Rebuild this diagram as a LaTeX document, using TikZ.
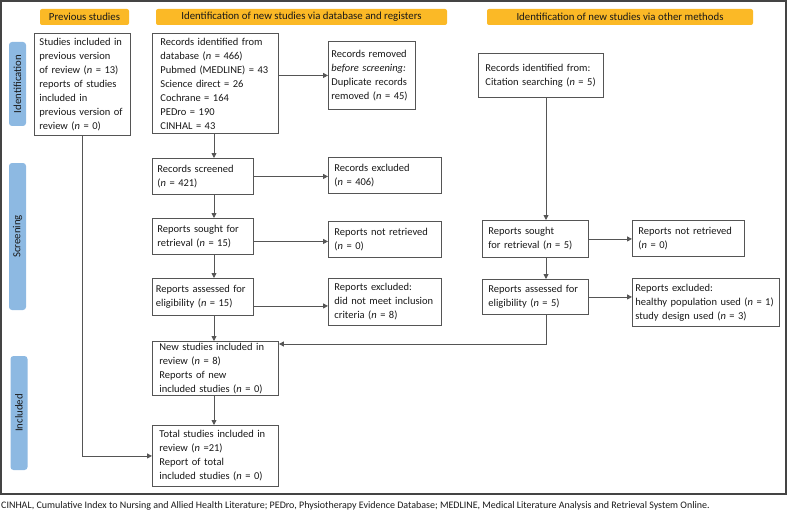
\documentclass[tikz,border=0pt]{standalone}
\usepackage{fontspec}
\setmainfont{Carlito}
\usetikzlibrary{arrows.meta, positioning, calc}
\definecolor{headorange}{RGB}{251,185,38}
\definecolor{sideblue}{RGB}{141,185,226}
\definecolor{linegray}{RGB}{85,85,85}
\definecolor{textgray}{RGB}{25,25,25}
\newcommand{\nn}{\textit{n}}

\begin{document}
\begin{tikzpicture}[x=1pt, y=-1pt,
  box/.style={draw=linegray, line width=0.9pt, fill=white, anchor=north west, align=left,
    inner xsep=5pt, inner ysep=1pt, text=textgray, font=\fontsize{10.5}{14}\selectfont},
  header/.style={fill=headorange, rounded corners=2pt, inner sep=0pt, minimum height=16pt,
    text=textgray, font=\fontsize{10.8}{12}\selectfont},
  phase/.style={fill=sideblue, rounded corners=3pt, inner sep=0pt, rotate=90,
    minimum height=17pt, text=textgray, font=\fontsize{10.8}{12}\selectfont},
  link/.style={draw=linegray, line width=0.9pt, -{Triangle[length=5pt, width=5pt]}}]
  \useasboundingbox (0,0) rectangle (788,511);
  \draw[linegray!80!black, line width=1.1pt] (1,1) rectangle (786,494);

  % Headers
  \node[header, minimum width=89pt] (hprev) at (84.5,17) {Previous studies};
  \node[header, minimum width=291pt] (hdb) at (301.5,17) {Identification of new studies via database and registers};
  \node[header, minimum width=266pt] (hoth) at (620,17) {Identification of new studies via other methods};

  % Phases
  \node[phase, minimum width=84pt] (pid) at (17.5,84) {Identification};
  \node[phase, minimum width=147pt] (pscr) at (17.5,236.5) {Screening};
  \node[phase, minimum width=114pt] (pinc) at (19,413) {Included};

  % Previous studies
  \node[box, inner xsep=5pt, text width=86pt, minimum height=102pt] (prev) at (34,33)
    {Studies included in\\previous version\\of review (\nn{} = 13)\\reports of studies\\included in\\previous version of\\review (\nn{} = 0)};

  % Database and registers
  \node[box, inner xsep=8pt, text width=110pt, minimum height=100pt] (db) at (152,33)
    {Records identified from\\database (\nn{} = 466)\\Pubmed (MEDLINE) = 43\\Science direct = 26\\Cochrane = 164\\PEDro = 190\\CINHAL = 43};
  \node[box, inner xsep=3pt, text width=81pt, minimum height=68pt] (removed) at (328,41)
    {Records removed\\\textit{before screening:}\\Duplicate records\\removed (\nn{} = 45)};
  \node[box, inner xsep=5pt, text width=91pt, minimum height=36pt] (screened) at (152,158)
    {Records screened\\(\nn{} = 421)};
  \node[box, inner xsep=6pt, text width=101pt, minimum height=36pt] (excluded) at (328,157)
    {Records excluded\\(\nn{} = 406)};
  \node[box, inner xsep=5pt, text width=91pt, minimum height=36pt] (sought) at (152,218)
    {Reports sought for\\retrieval (\nn{} = 15)};
  \node[box, inner xsep=6pt, text width=101pt, minimum height=36pt] (notretr) at (328,221)
    {Reports not retrieved\\(\nn{} = 0)};
  \node[box, inner xsep=3.5pt, text width=94pt, minimum height=37pt] (assessed) at (152,278)
    {Reports assessed for\\eligibility (\nn{} = 15)};
  \node[box, inner xsep=6pt, text width=101pt, minimum height=47pt] (notmet) at (328,278)
    {Reports excluded:\\did not meet inclusion\\criteria (\nn{} = 8)};

  % Other methods
  \node[box, inner xsep=7pt, text width=111pt, minimum height=44pt] (citation) at (478,53)
    {Records identified from:\\Citation searching (\nn{} = 5)};
  \node[box, inner xsep=6pt, text width=94pt, minimum height=37pt] (soughtoth) at (482,220)
    {Reports sought\\for retrieval (\nn{} = 5)};
  \node[box, inner xsep=6pt, text width=100pt, minimum height=36pt] (notretroth) at (632,220)
    {Reports not retrieved\\(\nn{} = 0)};
  \node[box, inner xsep=6pt, text width=94pt, minimum height=35pt] (assessedoth) at (482,279)
    {Reports assessed for\\eligibility (\nn{} = 5)};
  \node[box, inner xsep=3pt, text width=141pt, minimum height=48pt] (exclother) at (632,278)
    {Reports excluded:\\healthy population used (\nn{} = 1)\\study design used (\nn{} = 3)};

  % Included
  \node[box, inner xsep=7pt, text width=112pt, minimum height=54pt] (newincl) at (152,341)
    {New studies included in\\review (\nn{} = 8)\\Reports of new\\included studies (\nn{} = 0)};
  \node[box, inner xsep=7pt, text width=112pt, minimum height=61pt] (total) at (152,425)
    {Total studies included in\\review (\nn{} =21)\\Report of total\\included studies (\nn{} = 0)};

  % Connectors
  \coordinate (colA) at (214,0);
  \coordinate (colB) at (546,0);
  \coordinate (join) at (546,344);
  \draw[link] (prev.south) |- (total.west);
  \draw[link] (db.south -| colA) -- (screened.north -| colA);
  \draw[link] (db.east |- removed.west) -- (removed.west);
  \draw[link] (screened.south -| colA) -- (sought.north -| colA);
  \draw[link] (screened.east) -- (screened.east -| excluded.west);
  \draw[link] ([yshift=-5pt]sought.east) -- ([yshift=-5pt]sought.east -| notretr.west);
  \draw[link] (sought.south -| colA) -- (assessed.north -| colA);
  \draw[link] ([yshift=-9pt]assessed.east) -- ([yshift=-9pt]assessed.east -| notmet.west);
  \draw[link] (assessed.south -| colA) -- (newincl.north -| colA);
  \draw[link] (newincl.south -| colA) -- (total.north -| colA);
  \draw[link] (citation.south -| colB) -- (soughtoth.north -| colB);
  \draw[link] (soughtoth.east) -- (soughtoth.east -| notretroth.west);
  \draw[link] (soughtoth.south -| colB) -- (assessedoth.north -| colB);
  \draw[link] (assessedoth.east) -- (assessedoth.east -| exclother.west);
  \draw[link] (assessedoth.south -| colB) -- (join) -- (join -| newincl.east);

  % Footnote
  \node[anchor=west, inner sep=0pt, text=textgray, font=\fontsize{10}{12}\selectfont] (note) at (1,506)
    {CINHAL, Cumulative Index to Nursing and Allied Health Literature; PEDro, Physiotherapy Evidence Database; MEDLINE, Medical Literature Analysis and Retrieval System Online.};
\end{tikzpicture}
\end{document}
